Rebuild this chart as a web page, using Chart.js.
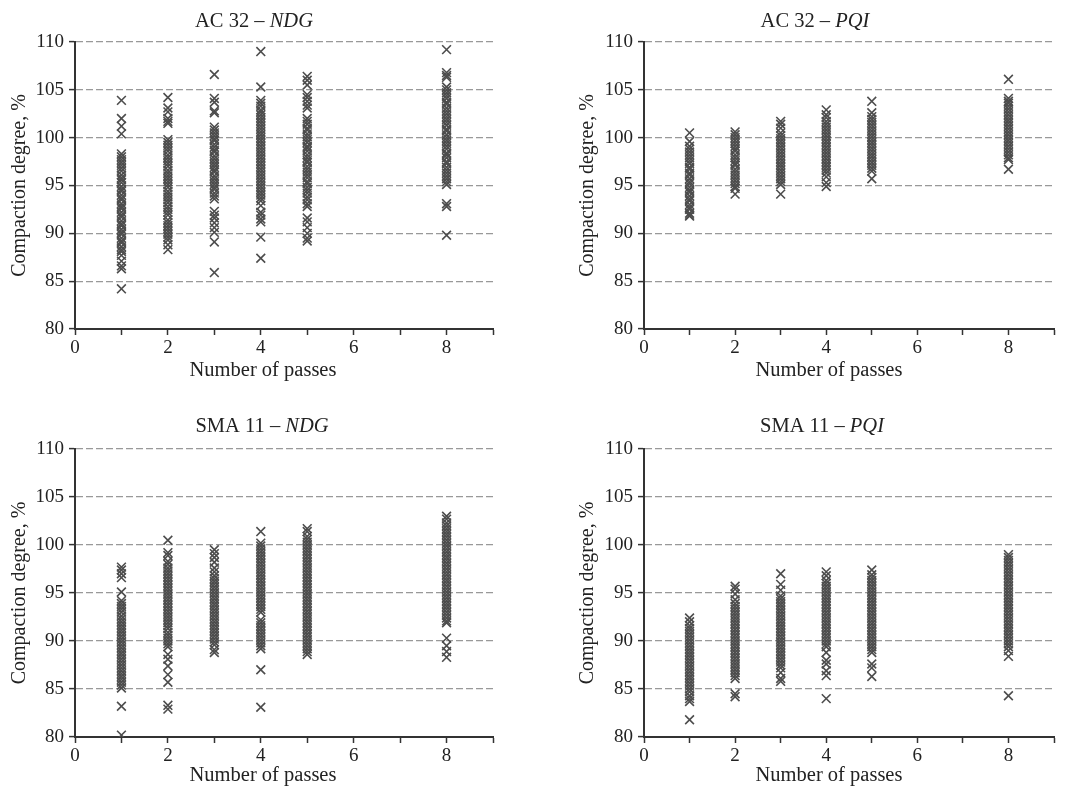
<!DOCTYPE html>
<html>
<head>
<meta charset="utf-8">
<script src="https://cdn.jsdelivr.net/npm/chart.js@4.4.1/dist/chart.umd.min.js"></script>
<style>
  html, body { margin: 0; padding: 0; background: #fff; overflow: hidden; }
  body { width: 1069px; height: 787px; position: relative; }
  canvas { position: absolute; }
</style>
</head>
<body>
<canvas id="acNdg"></canvas>
<canvas id="acPqi"></canvas>
<canvas id="smaNdg"></canvas>
<canvas id="smaPqi"></canvas>
<script>
// number of roller passes, one column of readings per pass
const passes = [1, 2, 3, 4, 5, 8];
const yTicks = [80, 85, 90, 95, 100, 105, 110];

// compaction degree readings (%), one list per pass
const ac32Ndg = [
  [103.9, 102.0, 101.2, 100.4, 98.3, 98.0, 97.7, 97.4, 97.1, 96.8, 96.5, 96.1, 95.8, 95.6, 95.3, 94.9, 94.6, 94.4, 94.0, 93.7, 93.5, 93.1, 92.8, 92.6, 92.2, 91.9, 91.7, 91.3, 91.0, 90.8, 90.4, 90.1, 89.9, 89.5, 89.2, 89.0, 88.6, 88.3, 88.1, 87.7, 87.1, 86.6, 86.3, 84.2],
  [104.2, 103.1, 102.7, 102.0, 101.7, 101.5, 99.8, 99.5, 99.2, 98.9, 98.6, 98.2, 97.9, 97.6, 97.3, 97.0, 96.6, 96.3, 96.0, 95.7, 95.4, 95.1, 94.8, 94.4, 94.1, 93.8, 93.5, 93.2, 92.8, 92.5, 92.2, 91.9, 91.4, 91.1, 90.8, 90.5, 90.2, 89.9, 89.6, 89.3, 88.8, 88.3],
  [106.6, 104.1, 103.7, 102.8, 102.6, 101.1, 100.8, 100.5, 100.2, 99.9, 99.7, 99.3, 99.0, 98.7, 98.5, 98.1, 97.8, 97.5, 97.2, 96.9, 96.6, 96.4, 96.0, 95.7, 95.4, 95.1, 94.8, 94.6, 94.2, 93.9, 93.6, 92.3, 91.9, 91.6, 91.1, 90.6, 90.1, 89.1, 85.9],
  [109.0, 105.3, 103.9, 103.6, 103.3, 102.9, 102.7, 102.4, 102.1, 101.8, 101.5, 101.2, 100.9, 100.6, 100.3, 100.0, 99.7, 99.4, 99.1, 98.8, 98.5, 98.2, 97.9, 97.6, 97.3, 97.0, 96.7, 96.4, 96.1, 95.8, 95.5, 95.2, 94.9, 94.6, 94.3, 94.0, 93.7, 93.4, 92.9, 92.2, 91.9, 91.5, 91.2, 89.6, 87.4],
  [106.4, 106.0, 105.5, 104.5, 104.2, 103.8, 103.4, 103.1, 102.0, 101.7, 101.4, 101.0, 100.8, 100.4, 100.1, 99.8, 99.5, 99.1, 98.9, 98.6, 98.2, 97.9, 97.6, 97.4, 97.0, 96.7, 96.4, 96.1, 95.8, 95.4, 95.2, 94.8, 94.5, 94.2, 93.8, 93.5, 93.1, 92.8, 91.6, 91.2, 90.6, 90.0, 89.5, 89.2],
  [109.2, 106.8, 106.5, 106.3, 105.3, 105.0, 104.7, 104.4, 104.1, 103.7, 103.5, 103.1, 102.8, 102.5, 102.2, 101.9, 101.6, 101.3, 100.9, 100.7, 100.3, 100.0, 99.7, 99.4, 99.1, 98.8, 98.4, 98.2, 97.9, 97.5, 97.3, 96.9, 96.6, 96.3, 96.0, 95.7, 95.4, 95.1, 93.1, 92.8, 89.8]
];
const ac32Pqi = [
  [100.5, 99.6, 99.1, 98.8, 98.5, 98.2, 97.9, 97.6, 97.3, 96.9, 96.7, 96.3, 96.1, 95.7, 95.4, 95.2, 94.8, 94.5, 94.3, 93.9, 93.6, 93.4, 93.0, 92.7, 92.5, 92.1, 91.9, 91.8],
  [100.6, 100.3, 100.0, 99.7, 99.4, 99.1, 98.8, 98.6, 98.2, 97.9, 97.6, 97.3, 97.1, 96.7, 96.4, 96.1, 95.8, 95.5, 95.2, 94.9, 94.7, 94.1],
  [101.7, 101.4, 101.0, 100.5, 100.2, 99.9, 99.6, 99.3, 99.0, 98.7, 98.4, 98.1, 97.8, 97.5, 97.2, 96.9, 96.6, 96.3, 96.0, 95.7, 95.4, 95.1, 94.1],
  [102.9, 102.4, 102.1, 101.7, 101.4, 101.1, 100.8, 100.5, 100.2, 99.9, 99.6, 99.3, 99.0, 98.7, 98.4, 98.1, 97.8, 97.5, 97.2, 96.9, 96.6, 96.3, 95.9, 95.3, 94.9],
  [103.8, 102.6, 102.2, 101.9, 101.6, 101.3, 101.0, 100.7, 100.4, 100.1, 99.8, 99.5, 99.2, 98.9, 98.6, 98.3, 98.0, 97.7, 97.4, 97.1, 96.8, 96.5, 95.7],
  [106.1, 104.1, 103.8, 103.6, 103.3, 103.0, 102.7, 102.4, 102.1, 101.8, 101.5, 101.2, 100.9, 100.6, 100.3, 100.0, 99.7, 99.4, 99.1, 98.8, 98.5, 98.2, 97.9, 97.7, 96.7]
];
const sma11Ndg = [
  [97.7, 97.4, 97.0, 96.6, 95.1, 94.2, 93.9, 93.6, 93.3, 93.0, 92.6, 92.3, 92.0, 91.7, 91.4, 91.1, 90.8, 90.5, 90.2, 89.9, 89.6, 89.3, 89.0, 88.7, 88.4, 88.1, 87.8, 87.5, 87.2, 86.9, 86.6, 86.3, 86.0, 85.7, 85.4, 85.1, 83.2, 80.2],
  [100.5, 99.2, 98.9, 98.3, 98.0, 97.6, 97.3, 97.0, 96.7, 96.4, 96.1, 95.8, 95.5, 95.2, 94.9, 94.6, 94.3, 94.0, 93.7, 93.4, 93.1, 92.8, 92.5, 92.2, 91.9, 91.6, 91.3, 90.9, 90.6, 90.3, 90.0, 89.7, 89.4, 88.6, 88.1, 87.4, 86.5, 85.7, 83.3, 82.9],
  [99.5, 99.1, 98.7, 98.2, 97.6, 97.2, 96.8, 96.5, 96.2, 95.9, 95.6, 95.3, 95.0, 94.7, 94.4, 94.1, 93.8, 93.5, 93.2, 92.9, 92.6, 92.3, 92.0, 91.7, 91.4, 91.1, 90.8, 90.5, 90.2, 89.9, 89.6, 89.1, 88.8],
  [101.4, 100.2, 99.9, 99.6, 99.3, 99.0, 98.7, 98.4, 98.1, 97.8, 97.5, 97.2, 96.9, 96.6, 96.3, 96.0, 95.7, 95.4, 95.1, 94.8, 94.5, 94.2, 93.9, 93.6, 93.3, 93.0, 92.2, 91.9, 91.6, 91.3, 91.0, 90.7, 90.4, 90.1, 89.8, 89.5, 89.2, 87.0, 83.1],
  [101.7, 101.4, 100.9, 100.6, 100.3, 100.0, 99.7, 99.4, 99.1, 98.8, 98.5, 98.2, 97.9, 97.6, 97.3, 97.0, 96.7, 96.4, 96.1, 95.8, 95.5, 95.2, 94.9, 94.6, 94.3, 94.0, 93.7, 93.4, 93.1, 92.8, 92.5, 92.2, 91.9, 91.6, 91.3, 91.0, 90.7, 90.4, 90.1, 89.8, 89.5, 89.2, 88.9, 88.6],
  [103.0, 102.7, 102.3, 102.0, 101.7, 101.4, 101.1, 100.8, 100.5, 100.2, 99.9, 99.6, 99.3, 99.0, 98.7, 98.4, 98.1, 97.8, 97.5, 97.2, 96.9, 96.6, 96.3, 96.0, 95.7, 95.4, 95.1, 94.8, 94.5, 94.2, 93.9, 93.6, 93.3, 93.0, 92.7, 92.4, 92.1, 91.9, 90.3, 89.5, 88.9, 88.3]
];
const sma11Pqi = [
  [92.4, 92.0, 91.6, 91.3, 91.0, 90.7, 90.4, 90.1, 89.8, 89.5, 89.2, 88.9, 88.6, 88.3, 88.0, 87.7, 87.4, 87.1, 86.8, 86.5, 86.2, 85.9, 85.6, 85.3, 85.0, 84.7, 84.3, 84.0, 83.7, 81.8],
  [95.7, 95.4, 94.9, 94.3, 93.9, 93.6, 93.3, 93.0, 92.7, 92.4, 92.1, 91.8, 91.5, 91.2, 90.9, 90.6, 90.3, 90.0, 89.7, 89.4, 89.1, 88.8, 88.5, 88.2, 87.9, 87.6, 87.3, 87.0, 86.7, 86.4, 86.1, 84.5, 84.2],
  [97.0, 95.9, 95.3, 94.7, 94.4, 94.1, 93.8, 93.5, 93.2, 92.9, 92.6, 92.3, 92.0, 91.7, 91.4, 91.1, 90.8, 90.5, 90.2, 89.9, 89.6, 89.3, 89.0, 88.7, 88.4, 88.1, 87.8, 87.5, 87.2, 86.7, 86.1, 85.8],
  [97.2, 96.8, 96.3, 96.0, 95.7, 95.4, 95.1, 94.8, 94.5, 94.2, 93.9, 93.6, 93.3, 93.0, 92.7, 92.4, 92.1, 91.8, 91.5, 91.2, 90.9, 90.6, 90.3, 90.0, 89.7, 89.4, 88.8, 88.0, 87.6, 86.9, 86.4, 84.0],
  [97.4, 96.9, 96.6, 96.3, 96.0, 95.7, 95.4, 95.1, 94.8, 94.5, 94.2, 93.9, 93.6, 93.3, 93.0, 92.7, 92.4, 92.1, 91.8, 91.5, 91.2, 90.9, 90.6, 90.3, 90.0, 89.7, 89.4, 89.1, 88.8, 87.6, 87.2, 86.3],
  [99.0, 98.7, 98.4, 98.1, 97.8, 97.5, 97.2, 96.9, 96.6, 96.3, 96.0, 95.7, 95.4, 95.1, 94.8, 94.5, 94.2, 93.9, 93.6, 93.3, 93.0, 92.7, 92.4, 92.1, 91.8, 91.5, 91.2, 90.9, 90.6, 90.3, 90.0, 89.7, 89.4, 89.0, 88.4, 84.3]
];

const FONT = '"Liberation Serif", "DejaVu Serif", serif';
const LABEL_SIZE = 20.5;
Chart.defaults.font.family = FONT;
Chart.defaults.font.size = 19;
Chart.defaults.color = '#222';

// title (plain + italic part) and x-axis title, drawn in canvas coords
const panelText = {
  id: 'panelText',
  afterDraw(chart, args, o) {
    const ctx = chart.ctx;
    const normal = LABEL_SIZE + 'px ' + FONT;
    const italic = 'italic ' + LABEL_SIZE + 'px ' + FONT;
    ctx.save();
    ctx.fillStyle = '#222';
    ctx.textBaseline = 'middle';
    ctx.textAlign = 'left';
    ctx.font = normal;
    const w1 = ctx.measureText(o.main).width;
    ctx.font = italic;
    const w2 = ctx.measureText(o.italic).width;
    const x0 = o.titleX - (w1 + w2) / 2;
    ctx.font = normal;
    ctx.fillText(o.main, x0, o.titleY);
    ctx.font = italic;
    ctx.fillText(o.italic, x0 + w1, o.titleY);
    ctx.font = normal;
    ctx.textAlign = 'center';
    ctx.fillText('Number of passes', o.xTitleX, o.xTitleY);
    ctx.restore();
  }
};

function toPoints(cols) {
  const pts = [];
  cols.forEach((col, i) => col.forEach(v => pts.push({ x: passes[i], y: v })));
  return pts;
}

function panel(id, box, values, text) {
  const cv = document.getElementById(id);
  cv.width = box.w; cv.height = box.h;
  cv.style.left = box.left + 'px'; cv.style.top = box.top + 'px';
  cv.style.width = box.w + 'px'; cv.style.height = box.h + 'px';

  new Chart(cv, {
    type: 'scatter',
    data: {
      datasets: [{
        data: toPoints(values),
        pointStyle: 'crossRot',
        pointRadius: 6.2,
        pointHoverRadius: 6.2,
        borderWidth: 1.6,
        borderColor: '#4d4d4d',
        backgroundColor: 'rgba(0,0,0,0)'
      }]
    },
    plugins: [panelText],
    options: {
      responsive: false,
      animation: false,
      events: [],
      layout: { padding: { top: box.padTop, right: box.padRight, left: 0, bottom: 0 } },
      plugins: {
        legend: { display: false },
        tooltip: { enabled: false },
        panelText: text
      },
      scales: {
        x: {
          type: 'linear',
          min: 0, max: 9,
          afterFit: s => { s.height = box.xH; },
          ticks: {
            stepSize: 1, autoSkip: false, maxRotation: 0, padding: 2,
            callback: v => (v % 2 === 0 ? v : '')
          },
          grid: { drawOnChartArea: false, drawTicks: true, tickLength: 6, tickColor: '#333', tickWidth: 1.5 },
          border: { color: '#333', width: 2 }
        },
        y: {
          min: 80, max: 110,
          afterFit: s => { s.width = box.yW; },
          afterBuildTicks: s => { s.ticks = yTicks.map(v => ({ value: v })); },
          ticks: { padding: 5 },
          grid: { color: '#999', lineWidth: 1.2, drawTicks: true, tickLength: 6, tickColor: '#333', tickWidth: 1.5 },
          border: { color: '#333', width: 2, dash: [7, 3] },
          title: {
            display: true,
            text: 'Compaction degree, %',
            font: { size: 20 },
            padding: { top: box.yTitlePad, bottom: 0 }
          }
        }
      }
    }
  });
}

panel('acNdg', { left: 0, top: 0, w: 530, h: 390, padTop: 42, padRight: 37, xH: 61, yW: 75, yTitlePad: 8 },
  ac32Ndg, { main: 'AC 32 – ', italic: 'NDG', titleX: 254, titleY: 22, xTitleX: 263, xTitleY: 371 });
panel('acPqi', { left: 550, top: 0, w: 519, h: 390, padTop: 42, padRight: 15, xH: 61, yW: 94, yTitlePad: 26 },
  ac32Pqi, { main: 'AC 32 – ', italic: 'PQI', titleX: 265, titleY: 22, xTitleX: 279, xTitleY: 371 });
panel('smaNdg', { left: 0, top: 395, w: 530, h: 395, padTop: 54, padRight: 37, xH: 53, yW: 75, yTitlePad: 8 },
  sma11Ndg, { main: 'SMA 11 – ', italic: 'NDG', titleX: 262, titleY: 32, xTitleX: 263, xTitleY: 381 });
panel('smaPqi', { left: 550, top: 395, w: 519, h: 395, padTop: 54, padRight: 15, xH: 53, yW: 94, yTitlePad: 26 },
  sma11Pqi, { main: 'SMA 11 – ', italic: 'PQI', titleX: 272, titleY: 32, xTitleX: 279, xTitleY: 381 });
</script>
</body>
</html>
